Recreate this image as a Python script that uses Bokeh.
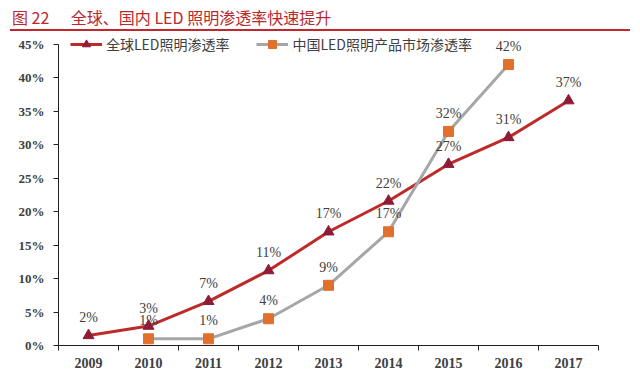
from bokeh.plotting import figure
from bokeh.models import Range1d, FixedTicker, Legend, LegendItem, Div, ColumnDataSource, LabelSet
from bokeh.layouts import column
from bokeh.embed import file_html
from bokeh.resources import INLINE
from bokeh.core.properties import value

# ---- data ----
years = [2009, 2010, 2011, 2012, 2013, 2014, 2015, 2016, 2017]
global_rate = [1.5, 2.9, 6.6, 11.2, 17.0, 21.6, 27.1, 31.1, 36.6]
global_labels = ["2%", "3%", "7%", "11%", "17%", "22%", "27%", "31%", "37%"]
china_years = [2010, 2011, 2012, 2013, 2014, 2015, 2016]
china_rate = [1.0, 1.0, 4.0, 9.0, 17.0, 32.0, 42.0]
china_labels = ["1%", "1%", "4%", "9%", "17%", "32%", "42%"]
y_ticks = [0, 5, 10, 15, 20, 25, 30, 35, 40, 45]
y_tick_labels = ["0%", "5%", "10%", "15%", "20%", "25%", "30%", "35%", "40%", "45%"]
series_names = ["全球LED照明渗透率", "中国LED照明产品市场渗透率"]
title_text = "图 22      全球、国内 LED 照明渗透率快速提升"

# ---- style ----
RED = "#BE2A2A"
MAROON = "#8E1C36"
GRAY = "#A6A6A6"
ORANGE = "#E0702C"
TXT = "#404040"
SERIF = "Liberation Serif"
CJK = "Noto Sans CJK SC"

title = Div(
    text=('<div style="font-family:\'Noto Sans CJK SC\';font-size:16px;color:#B8282C;'
          'white-space:pre;border-bottom:2px solid #C0282D;height:29px;line-height:34px;'
          'margin-left:10px;padding-left:2px;width:618px;box-sizing:content-box;">'
          + title_text + '</div>'),
    width=640, height=32, margin=(0, 0, 0, 0),
)

p = figure(width=640, height=338, output_backend="svg", toolbar_location=None,
           x_range=Range1d(years[0] - 0.5, years[-1] + 0.5), y_range=Range1d(0, 46.79),
           min_border_left=58, min_border_right=42, min_border_top=0, min_border_bottom=24,
           margin=(0, 0, 0, 0))
p.outline_line_color = None
p.xgrid.visible = False
p.ygrid.visible = False
p.background_fill_color = "white"

# axes
p.yaxis.ticker = FixedTicker(ticks=y_ticks)
p.yaxis.bounds = (y_ticks[0], y_ticks[-1])
p.yaxis.major_label_overrides = {t: l for t, l in zip(y_ticks, y_tick_labels)}
p.yaxis.major_tick_out = 5
p.yaxis.major_tick_in = 0
p.yaxis.minor_tick_out = 0
p.yaxis.minor_tick_in = 0
p.yaxis.major_label_text_font = SERIF
p.yaxis.major_label_text_font_style = "bold"
p.yaxis.major_label_text_font_size = "13px"
p.yaxis.major_label_text_color = TXT
p.yaxis.major_label_standoff = 9
p.yaxis.axis_line_color = "#202020"
p.yaxis.major_tick_line_color = "#202020"

p.xaxis.ticker = FixedTicker(ticks=years, minor_ticks=[y - 0.5 for y in years] + [years[-1] + 0.5])
p.xaxis.major_label_overrides = {y: str(y) for y in years}
p.xaxis.major_tick_out = 0
p.xaxis.major_tick_in = 0
p.xaxis.minor_tick_out = 5
p.xaxis.minor_tick_in = 0
p.xaxis.minor_tick_line_color = "#202020"
p.xaxis.axis_line_color = "#202020"
p.xaxis.major_label_text_font = SERIF
p.xaxis.major_label_text_font_style = "bold"
p.xaxis.major_label_text_font_size = "14px"
p.xaxis.major_label_text_color = TXT
p.xaxis.major_label_standoff = 7

gsrc = ColumnDataSource(dict(x=years, y=global_rate, t=global_labels))
csrc = ColumnDataSource(dict(x=china_years, y=china_rate, t=china_labels))

l1 = p.line("x", "y", source=gsrc, line_color=RED, line_width=3)
s1 = p.scatter("x", "y", source=gsrc, marker="triangle", size=11, fill_color=MAROON, line_color=MAROON)
l2 = p.line("x", "y", source=csrc, line_color=GRAY, line_width=3)
s2 = p.scatter("x", "y", source=csrc, marker="square", size=10, fill_color=ORANGE, line_color=ORANGE)

for src in (gsrc, csrc):
    p.add_layout(LabelSet(x="x", y="y", text="t", source=src, y_offset=18,
                          text_align="center", text_baseline="middle",
                          text_font=value(SERIF), text_font_size="14px", text_color=TXT))

legend = Legend(items=[LegendItem(label=series_names[0], renderers=[l1, s1]),
                       LegendItem(label=series_names[1], renderers=[l2, s2])],
                orientation="horizontal", location=(12, 291),
                border_line_color=None, background_fill_alpha=0,
                padding=0, margin=0, spacing=27, label_standoff=4,
                glyph_width=32, glyph_height=20, label_height=20,
                label_text_font=CJK, label_text_font_size="14px", label_text_color=TXT)
p.add_layout(legend)

layout = column(title, p, spacing=0)
open("out.html", "w").write(file_html(layout, INLINE))
